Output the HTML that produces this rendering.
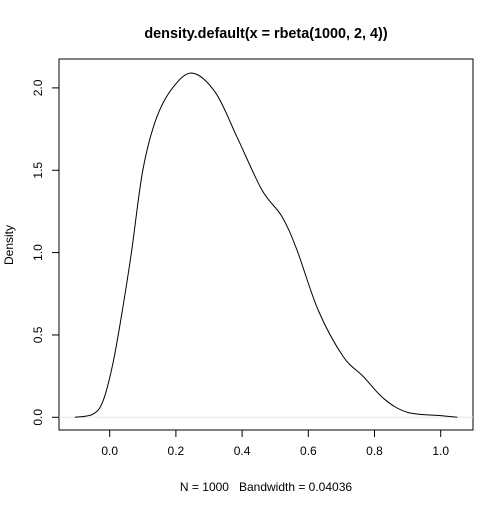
<!DOCTYPE html>
<html><head><meta charset="utf-8"><style>
body{margin:0;background:#fff;}
svg text{font-family:"Liberation Sans",Arial,sans-serif;fill:#000;white-space:pre;}
</style></head><body>
<svg id="chart" width="504" height="504" viewBox="0 0 504 504" xmlns="http://www.w3.org/2000/svg">
<rect width="504" height="504" fill="#fff"/>
<text x="266" y="38" font-size="14.4" font-weight="bold" text-anchor="middle">density.default(x = rbeta(1000, 2, 4))</text>
<text x="266" y="491" font-size="12" text-anchor="middle">N = 1000&#160;&#160;&#160;Bandwidth = 0.04036</text>
<text x="0" y="0" font-size="12" text-anchor="middle" transform="translate(13,245) rotate(-90)">Density</text>
<rect x="59" y="59" width="414" height="371" fill="none" stroke="#000" stroke-width="1"/>
<g id="axes"></g>
<g id="marks"></g>
</svg>
<script>
const xTicks=[0,0.2,0.4,0.6,0.8,1.0];
const xTickLabels=["0.0","0.2","0.4","0.6","0.8","1.0"];
const yTicks=[0,0.5,1.0,1.5,2.0];
const yTickLabels=["0.0","0.5","1.0","1.5","2.0"];
const xs=[-0.105,-0.05,-0.02,0.01,0.04,0.067,0.10,0.14,0.19,0.25,0.32,0.385,0.46,0.52,0.565,0.63,0.705,0.765,0.83,0.90,1.0,1.05];
const ys=[0,0.02,0.10,0.33,0.67,1.02,1.50,1.81,2.0,2.09,1.97,1.70,1.38,1.22,1.02,0.65,0.37,0.25,0.11,0.03,0.01,0];
const NS="http://www.w3.org/2000/svg";
const X=v=>109.7+v*331;
const Y=v=>417.3-v*164.7;
const ax=document.getElementById('axes'),mk=document.getElementById('marks');
function el(t,a,p){const e=document.createElementNS(NS,t);for(const k in a)e.setAttribute(k,a[k]);p.appendChild(e);return e;}
const xl=el('line',{x1:X(xTicks[0]),x2:X(xTicks[xTicks.length-1]),y1:430,y2:430,stroke:'#000'},ax);


xTicks.forEach((t,i)=>{
 const l=el('line',{x1:X(t),x2:X(t),y1:430,y2:437,stroke:'#000'},ax);
 
 
 const tx=el('text',{x:X(t),y:455,'font-size':12,'text-anchor':'middle'},ax);tx.textContent=xTickLabels[i];
 
 
});
const yl=el('line',{x1:59,x2:59,y1:Y(yTicks[0]),y2:Y(yTicks[yTicks.length-1]),stroke:'#000'},ax);


yTicks.forEach((t,i)=>{
 const l=el('line',{x1:52,x2:59,y1:Y(t),y2:Y(t),stroke:'#000'},ax);
 
 
 const tx=el('text',{x:0,y:0,'font-size':12,'text-anchor':'middle',transform:`translate(42,${Y(t)}) rotate(-90)`},ax);tx.textContent=yTickLabels[i];
 
 
});
const zl=el('line',{x1:59,x2:473,y1:Y(0),y2:Y(0),stroke:'#e6e6e6'},mk);


const P=xs.map((x,i)=>[X(x),Y(ys[i])]);
let d=`M${P[0][0]},${P[0][1]}`;
for(let i=0;i<P.length-1;i++){
 const p0=P[Math.max(0,i-1)],p1=P[i],p2=P[i+1],p3=P[Math.min(P.length-1,i+2)];
 const c1=[p1[0]+(p2[0]-p0[0])/6,p1[1]+(p2[1]-p0[1])/6];
 const c2=[p2[0]-(p3[0]-p1[0])/6,p2[1]-(p3[1]-p1[1])/6];
 d+=` C${c1[0]},${c1[1]} ${c2[0]},${c2[1]} ${p2[0]},${p2[1]}`;
}
const cu=el('path',{d:d,fill:'none',stroke:'#000','stroke-width':1},mk);


</script>
</body></html>
